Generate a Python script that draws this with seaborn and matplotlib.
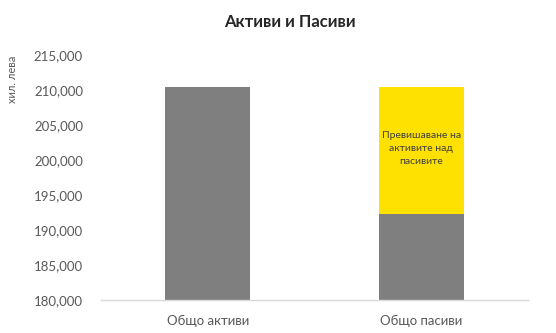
import matplotlib
matplotlib.use("Agg")
import matplotlib.pyplot as plt
import matplotlib.ticker as mticker
import seaborn as sns
import pandas as pd

# --- Data ---
categories = ["Общо активи", "Общо пасиви"]
totals = [210430, 210430]        # assets / full height of liabilities bar
liabilities = [210430, 192290]   # gray part (assets bar is fully gray)
excess_label = "Превишаване на\nактивите над\nпасивите"

GRAY = "#7f7f7f"
YELLOW = "#FFE100"
TEXT = "#595959"

sns.set_theme(style="white")
plt.rcParams["font.family"] = ["Lato", "DejaVu Sans"]

df = pd.DataFrame({"category": categories, "total": totals, "liab": liabilities})

fig = plt.figure(figsize=(5.56, 3.33), dpi=100)
ax = fig.add_axes([101 / 556, 1 - 300 / 333, 427 / 556, 245 / 333])

sns.barplot(data=df, x="category", y="total", hue="category",
            palette=[GRAY, YELLOW], width=0.4, legend=False, ax=ax,
            saturation=1, linewidth=0)
sns.barplot(data=df, x="category", y="liab", color=GRAY, width=0.4,
            ax=ax, saturation=1, linewidth=0)

mid = (totals[1] + liabilities[1]) / 2
ax.text(1, mid + 300, excess_label, ha="center", va="center",
        fontsize=7.5, color="#404040", linespacing=1.55)

ax.set_ylim(180000, 215000)
ax.set_xlim(-0.5, 1.5)
ax.yaxis.set_major_locator(mticker.MultipleLocator(5000))
ax.yaxis.set_major_formatter(mticker.StrMethodFormatter("{x:,.0f}"))
ax.tick_params(axis="y", colors=TEXT, labelsize=9.5, length=0, pad=13)
ax.tick_params(axis="x", colors=TEXT, labelsize=9.5, length=0, pad=11)
ax.set_xlabel("")
ax.set_ylabel("хил. лева", color=TEXT, fontsize=8)
ax.yaxis.set_label_coords(-0.195, 0.90)

for s in ["top", "right", "left"]:
    ax.spines[s].set_visible(False)
ax.spines["bottom"].set_color("#d9d9d9")
ax.spines["bottom"].set_linewidth(1)

fig.text(290 / 556, 1 - 22 / 333, "Активи и Пасиви", ha="center", va="center",
         fontsize=12, fontweight="bold", color="#262626")

fig.savefig("out.png", dpi=100)
